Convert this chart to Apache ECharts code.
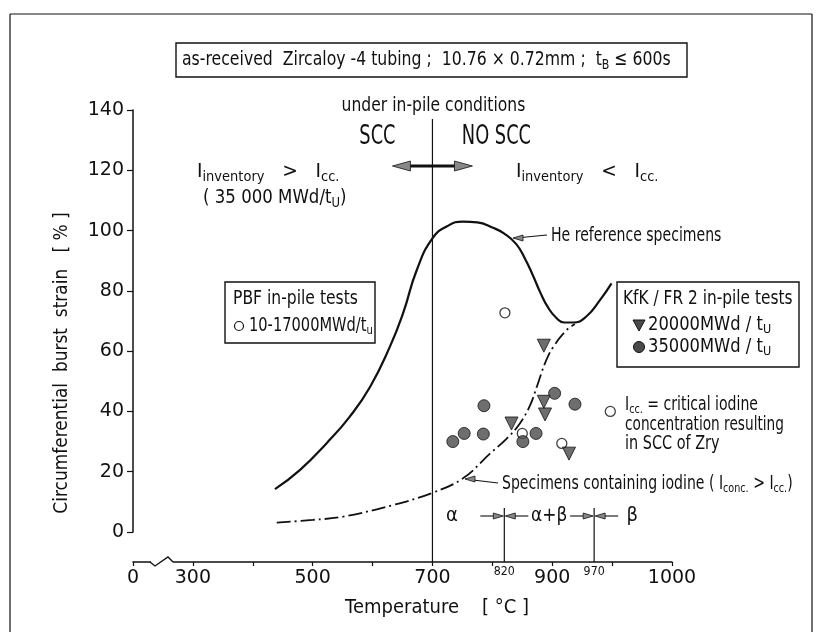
<!DOCTYPE html>
<html><head><meta charset="utf-8">
<script src="https://cdn.jsdelivr.net/npm/echarts@6/dist/echarts.min.js"></script>
<style>html,body{margin:0;padding:0;background:#fff}#c{width:822px;height:632px}</style>
</head><body><div id="c"></div>
<script>
// ---- data (temperature in °C on the drawn scale, burst strain in %) ----
const heliumTemp   = [437, 479, 523, 562, 596, 629, 651, 674, 700, 725, 751, 775, 800, 820, 840, 855, 868, 880, 893, 907, 920, 935, 957, 980, 999];
const heliumStrain = [14.2, 20.6, 29.4, 38.3, 48.2, 61.5, 72.6, 87, 97.4, 101.5, 103, 102.7, 101, 99, 95.5, 90.5, 85, 79.5, 74.5, 71, 69.5, 69.5, 71.5, 77, 82.5];
const iodineTemp   = [440, 500, 551, 635, 700, 751, 796, 824, 846, 863, 874, 888, 902, 924, 938];
const iodineStrain = [3.1, 4, 5.1, 9, 13, 17.8, 26, 31, 36, 42, 48, 56, 61.5, 67, 69];
const pbfTemp      = [821, 850, 916, 997];
const pbfStrain    = [72.7, 32.7, 29.4, 40];
const kfk20Temp    = [832, 886, 886, 888, 928];
const kfk20Strain  = [36, 61.8, 43.2, 39, 26];
const kfk35Temp    = [734, 753, 785, 786, 851, 873, 904, 938];
const kfk35Strain  = [30, 32.7, 32.5, 41.9, 30, 32.7, 46, 42.4];
const xTickLabels  = {200: '0', 300: '300', 500: '500', 700: '700', 900: '900', 1100: '1000'};
const phaseTemps   = [820, 970];

const zip = (a, b) => a.map((v, i) => [v, b[i]]);
const FONT = '"DejaVu Sans", sans-serif';
const INK = '#111';

const chart = echarts.init(document.getElementById('c'), null, {renderer: 'canvas', width: 822, height: 632});

chart.setOption({
  backgroundColor: '#fff',
  animation: false,
  grid: {left: 133, right: 150, top: 110, bottom: 100, containLabel: false},
  xAxis: {
    type: 'value', min: 200, max: 1100, interval: 100, offset: 30,
    axisLine: {onZero: false, lineStyle: {color: INK, width: 1.5}},
    axisTick: {length: 4, lineStyle: {color: INK, width: 1.2}},
    axisLabel: {color: INK, fontSize: 19, fontFamily: FONT, margin: 7,
      formatter: v => xTickLabels[v] || ''},
    splitLine: {show: false}
  },
  yAxis: {
    type: 'value', min: 0, max: 140, interval: 20,
    axisLine: {onZero: false, lineStyle: {color: INK, width: 1.5}},
    axisTick: {length: 6, lineStyle: {color: INK, width: 1.2}},
    axisLabel: {color: INK, fontSize: 19, fontFamily: FONT, margin: 9},
    splitLine: {show: false}
  },
  series: [
    {type: 'line', data: zip(heliumTemp, heliumStrain), smooth: 0.5, symbol: 'none',
      lineStyle: {color: INK, width: 2.2}, z: 3},
    {type: 'line', data: zip(iodineTemp, iodineStrain), smooth: 0.4, symbol: 'none',
      lineStyle: {color: INK, width: 1.8, type: [14, 4, 2, 4]}, z: 3},
    {type: 'scatter', data: zip(pbfTemp, pbfStrain), symbol: 'circle', symbolSize: 10,
      itemStyle: {color: '#fff', borderColor: INK, borderWidth: 1.3}, z: 5},
    {type: 'scatter', data: zip(kfk20Temp, kfk20Strain), symbol: 'triangle', symbolRotate: 180, symbolSize: 13,
      itemStyle: {color: '#4a4a4a', borderColor: INK, borderWidth: 1}, z: 5},
    {type: 'scatter', data: zip(kfk35Temp, kfk35Strain), symbol: 'circle', symbolSize: 12,
      itemStyle: {color: '#4a4a4a', borderColor: INK, borderWidth: 1}, z: 5}
  ]
});

const P = (t, v) => chart.convertToPixel({gridIndex: 0}, [t, v]);
const base = P(200, 0);
const axisY = base[1] + 30;

function rich(size) {
  const s = Math.round(size * 0.68);
  return {
    s: {fontSize: s, fontFamily: FONT, fill: INK, padding: [Math.round(size * 0.55), 0, 0, 0]},
    b: {fontSize: size, fontFamily: FONT, fill: INK}
  };
}
function T(x, y, text, size, align, sx, extra) {
  return Object.assign({type: 'text', x: x, y: y, z: 100, silent: true, scaleX: sx || 0.84,
    style: {text: text, fontSize: size, fontFamily: FONT, fill: INK, textAlign: align || 'left',
      textVerticalAlign: 'middle', rich: rich(size)}}, extra || {});
}
function L(x1, y1, x2, y2, w) {
  return {type: 'line', z: 90, silent: true, shape: {x1, y1, x2, y2}, style: {stroke: INK, lineWidth: w || 1.3}};
}
function R(x, y, w, h) {
  return {type: 'rect', z: 90, silent: true, shape: {x, y, width: w, height: h},
    style: {fill: 'rgba(0,0,0,0)', stroke: INK, lineWidth: 1.4}};
}
function head(tipX, tipY, dir, len, half) { // dir: +1 points right, -1 points left
  return {type: 'polygon', z: 95, silent: true,
    shape: {points: [[tipX, tipY], [tipX - dir * len, tipY - half], [tipX - dir * len, tipY + half]]},
    style: {fill: '#888', stroke: INK, lineWidth: 0.8}};
}

const g = [];
// frame
g.push(L(10, 14, 10, 632, 1.2), L(10, 14, 812, 14, 1.2), L(812, 14, 812, 632, 1.2));
// title box
g.push(R(176, 43, 511, 34));
g.push(T(182, 60, 'as-received  Zircaloy -4 tubing ;  10.76 × 0.72mm ;  t{s|B} ≤ 600s', 20, 'left', 0.785));
// SCC header
const x700 = P(700, 0)[0];
g.push(T(x700 + 1, 106, 'under in-pile conditions', 19, 'center', 0.82));
g.push(T(x700 - 55, 137, 'SCC', 27, 'center', 0.66));
g.push(T(x700 + 64, 137, 'NO SCC', 27, 'center', 0.66));
g.push(L(x700, P(700, 137)[1], x700, axisY, 1.2));
// double arrow
g.push(L(x700 - 30, 166, x700 + 30, 166, 3));
g.push(head(x700 - 40, 166, -1, 18, 5), head(x700 + 40, 166, 1, 18, 5));
// inventory texts
g.push(T(197, 172, '{b|I}{s|inventory}   >   {b|I}{s|cc.}', 20, 'left', 0.93));
g.push(T(203, 198, '( 35 000 MWd/t{s|U})', 20, 'left', 0.83));
g.push(T(516, 172, '{b|I}{s|inventory}   <   {b|I}{s|cc.}', 20, 'left', 0.93));
// He label
const heTip = [513, 238];
g.push(L(heTip[0] + 8, heTip[1] - 0.5, 547, 235, 1.2), head(heTip[0], heTip[1], -1, 10, 3));
g.push(T(551, 236, 'He reference specimens', 19, 'left', 0.74));
// PBF box
g.push(R(225, 282, 150, 61));
g.push(T(233, 299, 'PBF in-pile tests', 19, 'left', 0.82));
g.push({type: 'circle', z: 95, shape: {cx: 239, cy: 326, r: 4.5}, style: {fill: '#fff', stroke: INK, lineWidth: 1.2}});
g.push(T(249, 326, '10-17000MWd/t{s|u}', 19, 'left', 0.77));
// KfK box
g.push(R(617, 282, 182, 85));
g.push(T(623, 299, 'KfK / FR 2 in-pile tests', 19, 'left', 0.81));
g.push({type: 'polygon', z: 95, shape: {points: [[633, 320], [645, 320], [639, 331]]}, style: {fill: '#4a4a4a', stroke: INK, lineWidth: 1}});
g.push(T(648, 325, '20000MWd / t{s|U}', 19, 'left', 0.86));
g.push({type: 'circle', z: 95, shape: {cx: 639, cy: 347, r: 5.5}, style: {fill: '#4a4a4a', stroke: INK, lineWidth: 1}});
g.push(T(648, 347, '35000MWd / t{s|U}', 19, 'left', 0.86));
// Icc definition
g.push(T(625, 405, '{b|I}{s|cc.} = critical iodine', 19, 'left', 0.74));
g.push(T(625, 425, 'concentration resulting', 19, 'left', 0.72));
g.push(T(625, 444, 'in SCC of Zry', 19, 'left', 0.76));
// iodine label
g.push(L(473, 480, 498, 483, 1.2), head(465, 479, -1, 10, 3));
g.push(T(502, 484, 'Specimens containing iodine ( {b|I}{s|conc.} > {b|I}{s|cc.})', 19, 'left', 0.74));
// phase boundaries
const phaseTop = P(820, 8)[1];
const px = phaseTemps.map(t => P(t, 0)[0]);
px.forEach(x => g.push(L(x, phaseTop, x, axisY, 1.2)));
const yPh = 516;
g.push(T(452, yPh, 'α', 20, 'center', 0.9));
g.push(T((px[0] + px[1]) / 2, yPh, 'α+β', 20, 'center', 0.85));
g.push(T(px[1] + 38, yPh, 'β', 20, 'center', 0.9));
px.forEach(x => {
  g.push(L(x - 24, yPh, x - 8, yPh, 1.1), head(x - 1, yPh, 1, 10, 3));
  g.push(L(x + 8, yPh, x + 24, yPh, 1.1), head(x + 1, yPh, -1, 10, 3));
});
// raised small tick labels
px.forEach((x, i) => g.push(T(x, axisY + 10, String(phaseTemps[i]), 13, 'center', 0.85)));
// axis break
g.push({type: 'rect', z: 96, shape: {x: 151, y: 557, width: 22, height: 10}, style: {fill: '#fff'}});
g.push({type: 'polyline', z: 97, shape: {points: [[150, 562], [155, 566], [168, 557], [173, 562]]},
  style: {stroke: INK, lineWidth: 1.4, fill: null}});
// axis titles
g.push(T(62, 363, 'Circumferential  burst  strain   [ % ]', 20, 'center', 0.85, {rotation: Math.PI / 2}));
g.push(T(437, 608, 'Temperature    [ °C ]', 20, 'center', 0.9));

chart.setOption({graphic: g});
</script></body></html>
